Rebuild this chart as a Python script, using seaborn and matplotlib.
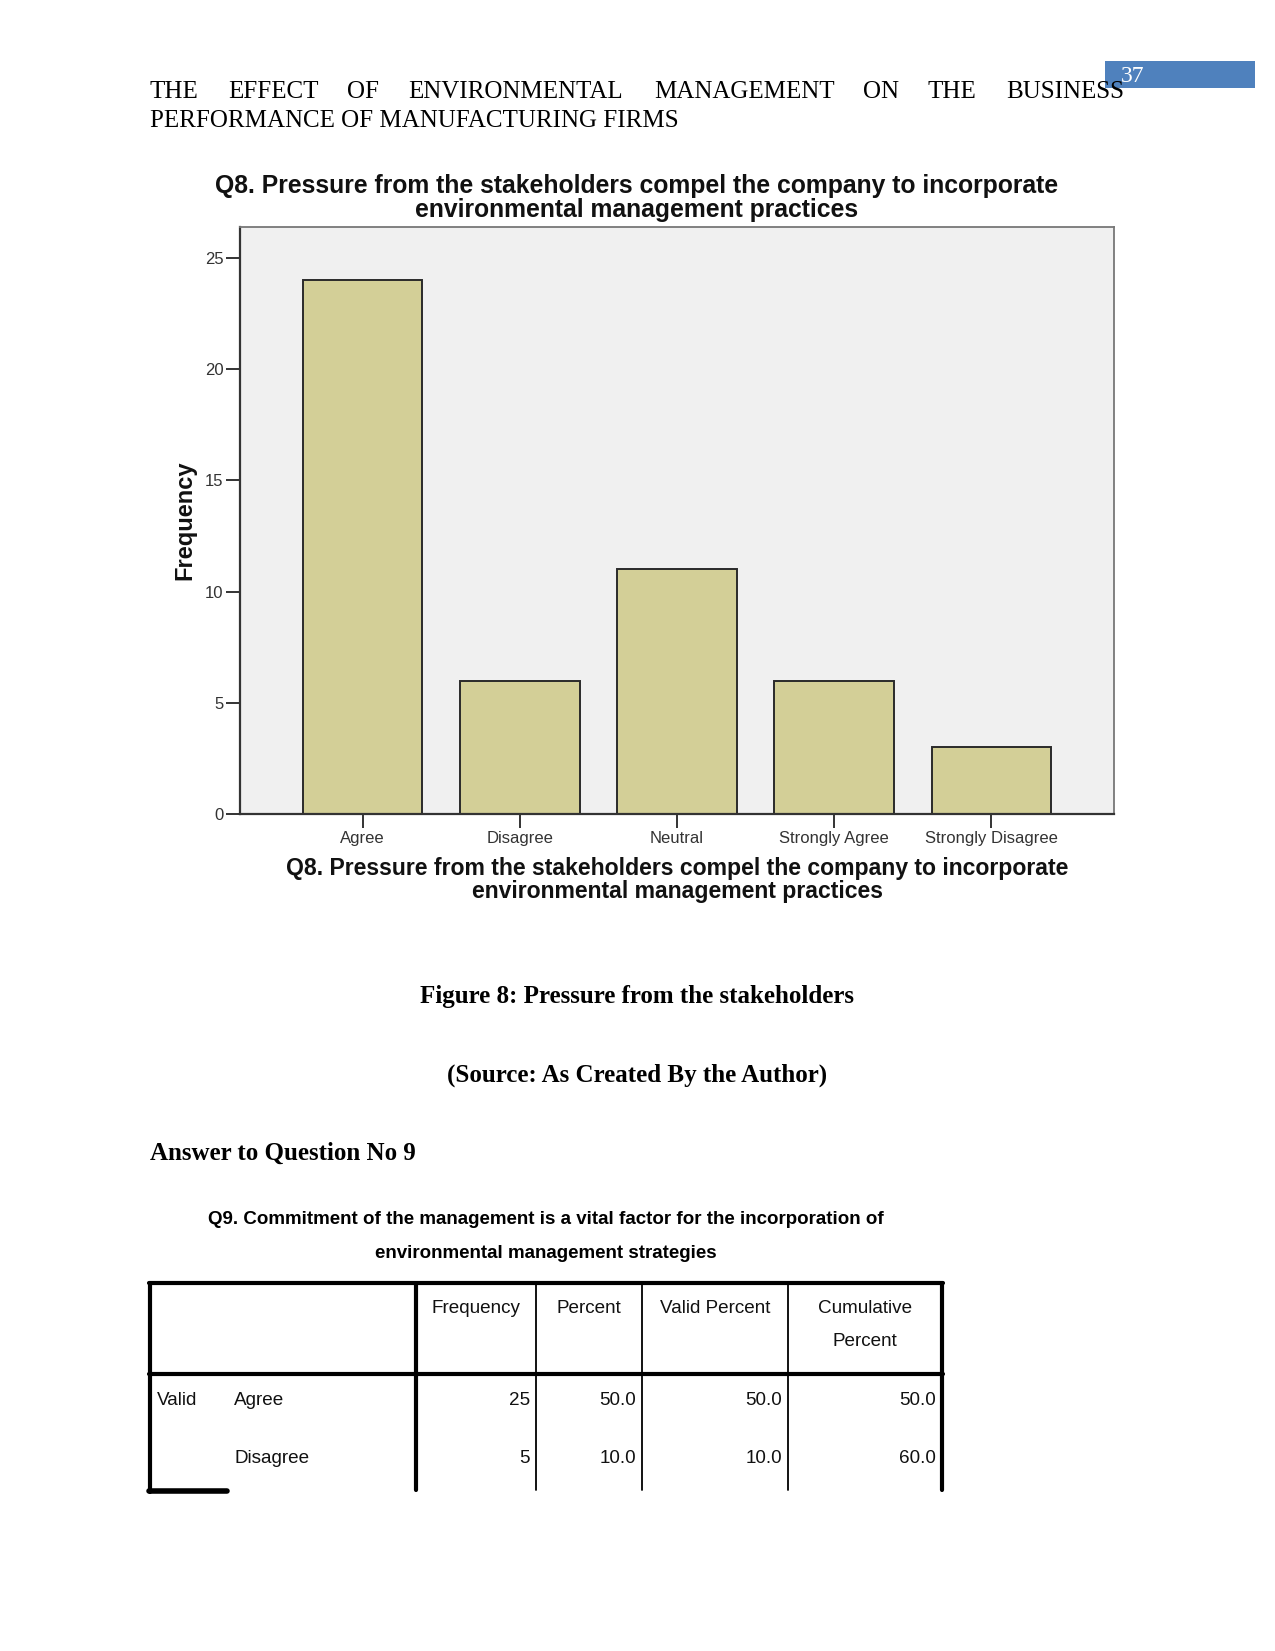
import matplotlib
matplotlib.use("Agg")
import matplotlib.pyplot as plt
import seaborn as sns
import pandas as pd
from matplotlib.lines import Line2D
from matplotlib.patches import Rectangle

# ---------------- data ----------------
categories = ["Agree", "Disagree", "Neutral", "Strongly Agree", "Strongly Disagree"]
frequencies = [24, 6, 11, 6, 3]
y_ticks = [0, 5, 10, 15, 20, 25]
chart_title = "Q8. Pressure from the stakeholders compel the company to incorporate\nenvironmental management practices"
y_label = "Frequency"

header_words = ["THE", "EFFECT", "OF", "ENVIRONMENTAL", "MANAGEMENT", "ON", "THE", "BUSINESS"]
header_line2 = "PERFORMANCE OF MANUFACTURING FIRMS"
page_number = "37"
caption = "Figure 8: Pressure from the stakeholders"
source = "(Source: As Created By the Author)"
section = "Answer to Question No 9"
table_title = ["Q9. Commitment of the management is a vital factor for the incorporation of",
               "environmental management strategies"]
table_columns = ["Frequency", "Percent", "Valid Percent", "Cumulative\nPercent"]
table_rows = ["Agree", "Disagree"]
table_freq = ["25", "5"]
table_pct = ["50.0", "10.0"]
table_valid = ["50.0", "10.0"]
table_cum = ["50.0", "60.0"]

W, H = 1275, 1651
sns.set_theme(style="white")
SANS = ["Liberation Sans", "DejaVu Sans"]
SERIF = ["Liberation Serif", "DejaVu Serif"]
plt.rcParams["font.family"] = SANS
plt.rcParams["text.color"] = "black"

fig = plt.figure(figsize=(W / 100, H / 100), dpi=100)
fig.patch.set_facecolor("white")

def fx(x):
    return x / W

def fy(y):
    return 1 - y / H

# ---------------- page header ----------------
word_x = [150, 228, 347, 408, 654, 863, 928, 1006]
for w, x in zip(header_words, word_x):
    fig.text(fx(x), fy(92), w, family=SERIF, fontsize=18, ha="left", va="center", color="black")
fig.text(fx(150), fy(121), header_line2, family=SERIF, fontsize=18, ha="left", va="center", color="black")
fig.patches.append(Rectangle((fx(1105), fy(88)), fx(150), 27 / H, transform=fig.transFigure,
                             facecolor="#4F81BD", edgecolor="none", zorder=0))
fig.text(fx(1133), fy(76), page_number, family=SERIF, fontsize=17, color="white", ha="center", va="center")

# ---------------- chart ----------------
ax = fig.add_axes([fx(240), fy(814), fx(874), 587 / H])
ax.set_facecolor("#F0F0F0")
df = pd.DataFrame({"category": categories, "frequency": frequencies})
sns.barplot(data=df, x="category", y="frequency", order=categories, color="#D3CF97",
            saturation=1, width=0.76, edgecolor="#2A2A2A", linewidth=1.4, ax=ax)
ax.set_ylim(0, 26.4)
ax.set_xlim(-0.78, 4.78)
ax.set_yticks(y_ticks)
ax.set_yticklabels([str(t) for t in y_ticks], fontsize=12, color="#333333")
ax.set_xticks(range(len(categories)))
ax.set_xticklabels(categories, fontsize=12, color="#333333")
ax.tick_params(axis="both", which="both", direction="out", length=10, width=1.4, color="#333333",
               left=True, bottom=True, pad=2)
for side in ["top", "right"]:
    ax.spines[side].set_color("#777777")
    ax.spines[side].set_linewidth(1.3)
for side in ["left", "bottom"]:
    ax.spines[side].set_color("#333333")
    ax.spines[side].set_linewidth(1.6)
ax.set_xlabel(chart_title, fontsize=16.6, fontweight="bold", color="#111111", labelpad=8, linespacing=1.0)
ax.set_ylabel(y_label, fontsize=17, fontweight="bold", color="#111111", labelpad=6)
fig.text(fx(637), fy(198), chart_title, fontsize=17.8, fontweight="bold", color="#111111",
         ha="center", va="center", linespacing=1.0)

# ---------------- captions ----------------
fig.text(fx(637), fy(996), caption, family=SERIF, fontsize=18, fontweight="bold", ha="center", va="center", color="black")
fig.text(fx(637), fy(1075), source, family=SERIF, fontsize=18, fontweight="bold", ha="center", va="center", color="black")
fig.text(fx(150), fy(1153), section, family=SERIF, fontsize=18, fontweight="bold", ha="left", va="center", color="black")
fig.text(fx(546), fy(1219), table_title[0], fontsize=13.5, fontweight="bold", ha="center", va="center", color="black")
fig.text(fx(546), fy(1253), table_title[1], fontsize=13.5, fontweight="bold", ha="center", va="center", color="black")

# ---------------- table ----------------
def hline(x0, x1, y, lw):
    fig.lines.append(Line2D([fx(x0), fx(x1)], [fy(y), fy(y)], transform=fig.transFigure, color="black", lw=lw))

def vline(x, y0, y1, lw):
    fig.lines.append(Line2D([fx(x), fx(x)], [fy(y0), fy(y1)], transform=fig.transFigure, color="black", lw=lw))

left, right, top, head_bot, bottom = 150, 942, 1283, 1374, 1490
col_x = [416, 536, 642, 788]
hline(left - 1, right + 1, top, 3)
hline(left - 1, right + 1, head_bot, 3)
vline(left, top, bottom + 2, 3)
vline(right, top, bottom, 3)
vline(col_x[0], top, bottom, 3)
for c in col_x[1:]:
    vline(c, top, bottom, 1.3)
hline(left - 1, 227, bottom + 1, 4)

col_edges = [col_x[0], col_x[1], col_x[2], col_x[3], right]
for i, name in enumerate(table_columns):
    cx = (col_edges[i] + col_edges[i + 1]) / 2
    fig.text(fx(cx), fy(1300), name, fontsize=13.6, ha="center", va="top", linespacing=2.25, color="#111111")

row_y = [1400, 1458]
fig.text(fx(157), fy(row_y[0]), "Valid", fontsize=13.6, ha="left", va="center", color="#111111")
for r, label in enumerate(table_rows):
    y = row_y[r]
    fig.text(fx(234), fy(y), label, fontsize=13.6, ha="left", va="center", color="#111111")
    vals = [table_freq[r], table_pct[r], table_valid[r], table_cum[r]]
    for i, v in enumerate(vals):
        fig.text(fx(col_edges[i + 1] - 6), fy(y), v, fontsize=13.6, ha="right", va="center", color="#111111")

fig.savefig("out.png", dpi=100, facecolor="white")
